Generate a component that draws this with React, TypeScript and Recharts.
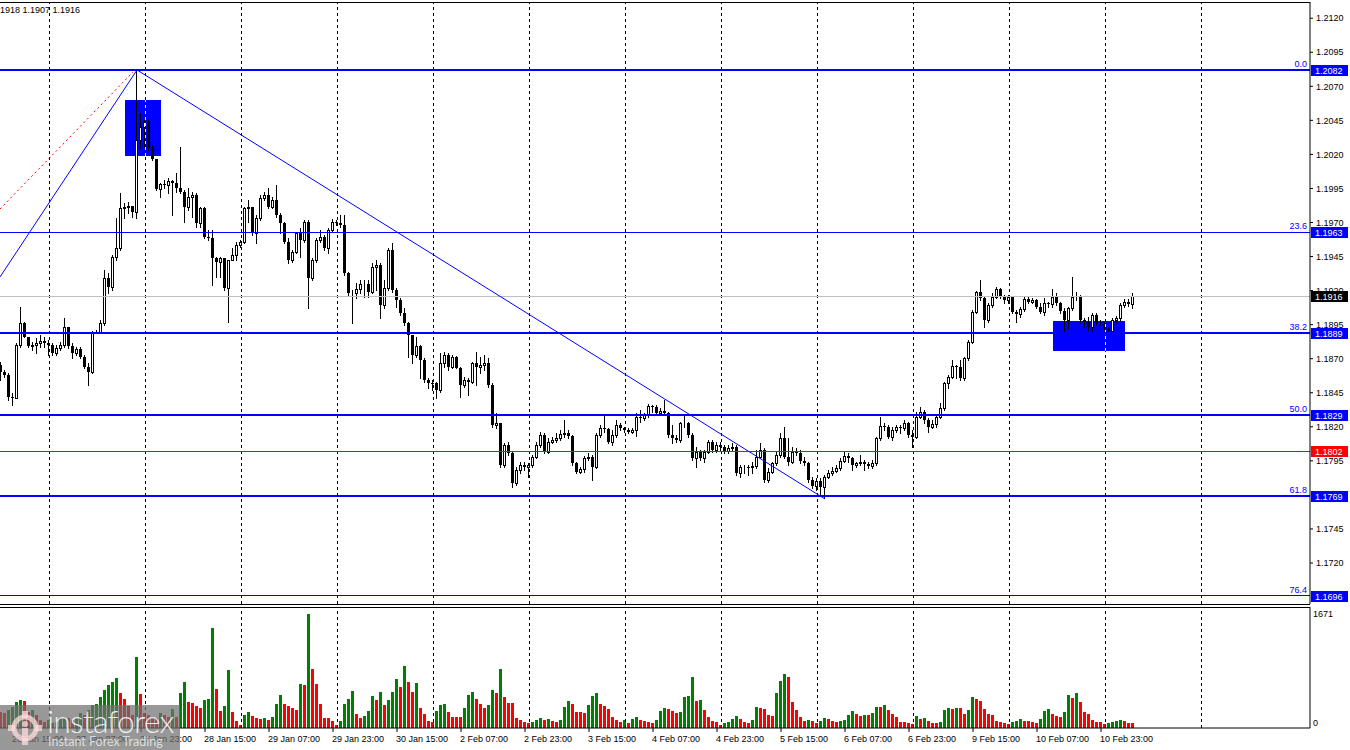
import React from "react";
import { Bar, ComposedChart, ReferenceArea, ReferenceLine, XAxis, YAxis } from "recharts";

const FONT = "'Liberation Sans', Arial, sans-serif";

// EURUSD H1, candle index 0 = 26 Jan 12:00
const firstOpen = 1.18654;

const closes = [
  1.18606, 1.18581, 1.18422, 1.1841, 1.18801, 1.1896, 1.18862, 1.18794, 1.18801, 1.18818,
  1.18833, 1.18813, 1.18801, 1.1874, 1.18777, 1.18801, 1.18936, 1.18794, 1.1874, 1.18769,
  1.18716, 1.18642, 1.18606, 1.18899, 1.18895, 1.1896, 1.19291, 1.19229, 1.1945, 1.19511,
  1.19805, 1.19817, 1.1982, 1.1978, 1.20306, 1.20404, 1.20441, 1.20245, 1.20164, 1.19944,
  1.19983, 1.19976, 1.20007, 1.19993, 1.19951, 1.19927, 1.19817, 1.1989, 1.19902, 1.19694,
  1.19805, 1.19597, 1.19584, 1.19437, 1.19413, 1.19437, 1.19217, 1.19425, 1.19462, 1.19535,
  1.1956, 1.19805, 1.19812, 1.19621, 1.19731, 1.19878, 1.19902, 1.19817, 1.19866, 1.19756,
  1.19694, 1.1956, 1.19425, 1.19486, 1.19621, 1.19572, 1.19707, 1.19291, 1.19425, 1.19572,
  1.19597, 1.19511, 1.19645, 1.19707, 1.19699, 1.19682, 1.19327, 1.1918, 1.19185, 1.1921,
  1.19249, 1.1925, 1.19193, 1.19376, 1.19388, 1.19095, 1.19217, 1.19499, 1.19205, 1.19132,
  1.19034, 1.1896, 1.18875, 1.18728, 1.18794, 1.18691, 1.18544, 1.18525, 1.1852, 1.18471,
  1.18667, 1.18728, 1.18642, 1.18715, 1.18634, 1.18507, 1.18544, 1.18532, 1.18666, 1.18642,
  1.18654, 1.18666, 1.18507, 1.18214, 1.18226, 1.1792, 1.18067, 1.18006, 1.17785, 1.17883,
  1.1792, 1.17903, 1.1792, 1.17981, 1.18067, 1.1814, 1.18018, 1.18091, 1.18104, 1.18116,
  1.18147, 1.18157, 1.18133, 1.17932, 1.17871, 1.17888, 1.17969, 1.17981, 1.17908, 1.1814,
  1.18189, 1.18182, 1.18091, 1.1814, 1.18214, 1.18189, 1.18177, 1.18165, 1.18177, 1.18275,
  1.18263, 1.18287, 1.18353, 1.18348, 1.18304, 1.18316, 1.18299, 1.1814, 1.18116, 1.18104,
  1.18226, 1.18231, 1.1814, 1.17969, 1.18018, 1.17969, 1.18018, 1.18091, 1.1803, 1.18067,
  1.18055, 1.18025, 1.18042, 1.18055, 1.17859, 1.17903, 1.17908, 1.17903, 1.17913, 1.17981,
  1.1803, 1.1781, 1.17871, 1.17932, 1.17993, 1.18116, 1.17981, 1.17944, 1.18018, 1.18011,
  1.17952, 1.17937, 1.1781, 1.17766, 1.17805, 1.17756, 1.17834, 1.17859, 1.17878, 1.17896,
  1.17952, 1.17986, 1.17969, 1.1792, 1.17932, 1.17944, 1.17927, 1.17913, 1.17932, 1.18116,
  1.18206, 1.18201, 1.18128, 1.18177, 1.18197, 1.18189, 1.18226, 1.1814, 1.18128, 1.18275,
  1.18312, 1.1825, 1.18201, 1.18221, 1.18275, 1.18336, 1.1852, 1.18569, 1.18647, 1.18637,
  1.18556, 1.18703, 1.18825, 1.19046, 1.19193, 1.19144, 1.18985, 1.19095, 1.19156, 1.1921,
  1.19156, 1.19131, 1.19151, 1.19046, 1.19029, 1.19063, 1.19136, 1.19119, 1.19131, 1.19082,
  1.19046, 1.19107, 1.191, 1.19156, 1.19107, 1.19053, 1.18985, 1.1907, 1.19151, 1.19156,
  1.18985, 1.18972, 1.18936, 1.19021, 1.1896, 1.18965, 1.18923, 1.18906, 1.18985, 1.18997,
  1.19095, 1.19119, 1.19102, 1.1916,
];

const highs = [
  1.18679, 1.18618, 1.18593, 1.18446, 1.18813, 1.19083, 1.18973, 1.18862, 1.18826, 1.1885,
  1.18875, 1.18862, 1.18838, 1.18813, 1.18801, 1.18826, 1.18997, 1.18936, 1.18813, 1.18789,
  1.18789, 1.18728, 1.18667, 1.18906, 1.18911, 1.18985, 1.19352, 1.19327, 1.19462, 1.19731,
  1.19915, 1.19841, 1.19854, 1.19817, 1.2082, 1.20502, 1.20453, 1.20453, 1.20269, 1.20164,
  1.19993, 1.20012, 1.20025, 1.20012, 1.20061, 1.20257, 1.19939, 1.19951, 1.19927, 1.19915,
  1.19817, 1.19817, 1.19645, 1.19645, 1.1945, 1.1945, 1.19425, 1.19425, 1.19511, 1.1956,
  1.19572, 1.19817, 1.19866, 1.19817, 1.19756, 1.19902, 1.19927, 1.19951, 1.1989, 1.19976,
  1.19768, 1.19707, 1.19584, 1.19499, 1.19633, 1.19658, 1.19719, 1.19719, 1.19437, 1.19584,
  1.19645, 1.19609, 1.19658, 1.19724, 1.19719, 1.19756, 1.19756, 1.1934, 1.19205, 1.19254,
  1.19278, 1.19278, 1.19278, 1.19401, 1.19425, 1.19401, 1.19278, 1.19511, 1.19548, 1.19217,
  1.19144, 1.1907, 1.18973, 1.18875, 1.18862, 1.18801, 1.18704, 1.18556, 1.18544, 1.18532,
  1.1874, 1.18752, 1.1874, 1.18727, 1.1872, 1.18642, 1.18568, 1.18556, 1.18679, 1.18752,
  1.18715, 1.18727, 1.18703, 1.18519, 1.18299, 1.18226, 1.18079, 1.18091, 1.18018, 1.17908,
  1.17944, 1.17944, 1.17932, 1.17993, 1.18091, 1.18165, 1.18152, 1.18116, 1.18128, 1.18152,
  1.18177, 1.1825, 1.18177, 1.1814, 1.17944, 1.17908, 1.17986, 1.18006, 1.17993, 1.18152,
  1.18214, 1.1828, 1.18189, 1.18177, 1.1825, 1.18226, 1.18201, 1.18189, 1.18189, 1.18299,
  1.18324, 1.18299, 1.18368, 1.1836, 1.1836, 1.18336, 1.18397, 1.18311, 1.18214, 1.1814,
  1.18238, 1.18287, 1.18238, 1.18152, 1.18055, 1.1803, 1.1803, 1.18104, 1.18104, 1.18091,
  1.18091, 1.18067, 1.18067, 1.18079, 1.18067, 1.1792, 1.1792, 1.1792, 1.17944, 1.1803,
  1.18079, 1.18042, 1.17896, 1.17944, 1.18018, 1.18152, 1.18201, 1.18116, 1.18055, 1.18042,
  1.1803, 1.17981, 1.17944, 1.17834, 1.17822, 1.17822, 1.17847, 1.17883, 1.17908, 1.1792,
  1.17969, 1.18018, 1.18006, 1.17981, 1.17944, 1.17993, 1.17957, 1.17944, 1.17957, 1.18128,
  1.1827, 1.18226, 1.18214, 1.18201, 1.18214, 1.18214, 1.1825, 1.18238, 1.18177, 1.18312,
  1.18348, 1.18324, 1.18263, 1.1825, 1.18287, 1.18373, 1.18532, 1.18581, 1.18691, 1.18654,
  1.18691, 1.18715, 1.18838, 1.19058, 1.192, 1.19278, 1.19156, 1.19107, 1.1918, 1.19229,
  1.19217, 1.19168, 1.19168, 1.19156, 1.19058, 1.19082, 1.19151, 1.19156, 1.19144, 1.19136,
  1.19107, 1.19144, 1.19119, 1.1921, 1.1918, 1.19119, 1.1907, 1.19082, 1.19298, 1.19193,
  1.19168, 1.18997, 1.19009, 1.19034, 1.19034, 1.18985, 1.18972, 1.18936, 1.18997, 1.19014,
  1.19112, 1.19136, 1.19136, 1.1918,
];

const lows = [
  1.18544, 1.18569, 1.18398, 1.18361, 1.1841, 1.18789, 1.18862, 1.18789, 1.18765, 1.1874,
  1.18789, 1.18789, 1.18728, 1.18728, 1.18728, 1.18765, 1.18789, 1.18777, 1.18704, 1.18728,
  1.18704, 1.1863, 1.18508, 1.18593, 1.18887, 1.18887, 1.18948, 1.1918, 1.19205, 1.19425,
  1.19499, 1.19731, 1.19768, 1.19743, 1.19731, 1.20245, 1.20257, 1.20233, 1.20159, 1.19939,
  1.19885, 1.19951, 1.19915, 1.19756, 1.19927, 1.19915, 1.19707, 1.19792, 1.19743, 1.1967,
  1.1967, 1.19584, 1.19572, 1.19242, 1.19303, 1.19303, 1.19205, 1.18973, 1.19425, 1.19425,
  1.19523, 1.19548, 1.19707, 1.19609, 1.19548, 1.19719, 1.19866, 1.19805, 1.19805, 1.19743,
  1.19621, 1.19548, 1.19401, 1.19413, 1.19474, 1.1945, 1.1956, 1.1907, 1.19278, 1.19413,
  1.1956, 1.19499, 1.19474, 1.19633, 1.19682, 1.1967, 1.19315, 1.19168, 1.1896, 1.19144,
  1.1918, 1.19156, 1.19156, 1.1918, 1.19205, 1.18997, 1.1907, 1.19205, 1.19193, 1.19083,
  1.19021, 1.18948, 1.18716, 1.18667, 1.18716, 1.18556, 1.18532, 1.18483, 1.18471, 1.1841,
  1.18459, 1.18642, 1.18618, 1.1863, 1.1863, 1.18422, 1.18495, 1.18434, 1.18519, 1.18507,
  1.18593, 1.18617, 1.18495, 1.18201, 1.18189, 1.17908, 1.17903, 1.17993, 1.17761, 1.17773,
  1.17859, 1.17883, 1.17834, 1.17908, 1.17969, 1.18055, 1.18006, 1.18006, 1.18079, 1.18091,
  1.18104, 1.18128, 1.18116, 1.1792, 1.17859, 1.17859, 1.17871, 1.17957, 1.1781, 1.17896,
  1.18128, 1.18165, 1.18079, 1.18067, 1.18128, 1.18177, 1.18165, 1.18152, 1.18152, 1.18133,
  1.18238, 1.1825, 1.18275, 1.18311, 1.18287, 1.18299, 1.18287, 1.18128, 1.18079, 1.18091,
  1.18091, 1.18201, 1.18128, 1.17957, 1.17908, 1.17957, 1.17944, 1.18006, 1.18018, 1.18018,
  1.1803, 1.18011, 1.18011, 1.1803, 1.17847, 1.17834, 1.17859, 1.17847, 1.17859, 1.17896,
  1.17969, 1.17798, 1.17798, 1.17859, 1.1792, 1.17981, 1.17969, 1.1792, 1.17932, 1.17993,
  1.17932, 1.1792, 1.17798, 1.17749, 1.17736, 1.177, 1.17675, 1.17822, 1.17847, 1.17871,
  1.17883, 1.17944, 1.17944, 1.17883, 1.17908, 1.1792, 1.17883, 1.17896, 1.17896, 1.1792,
  1.18104, 1.18177, 1.18116, 1.18104, 1.18165, 1.18153, 1.18177, 1.18128, 1.18055, 1.18116,
  1.18263, 1.18226, 1.18165, 1.18189, 1.18201, 1.18263, 1.18324, 1.18483, 1.18556, 1.18556,
  1.18544, 1.18544, 1.18691, 1.18813, 1.19034, 1.19131, 1.18936, 1.18972, 1.19082, 1.19144,
  1.19144, 1.19107, 1.19107, 1.19034, 1.18972, 1.19009, 1.19053, 1.19107, 1.19107, 1.1907,
  1.19034, 1.19021, 1.19082, 1.19082, 1.19095, 1.19038, 1.18899, 1.18923, 1.19058, 1.19131,
  1.18972, 1.18936, 1.18911, 1.18899, 1.18948, 1.18948, 1.18911, 1.18887, 1.18899, 1.18972,
  1.18985, 1.19082, 1.19087, 1.1907,
];

const volumes = [
  240, 215, 264, 303, 386, 410, 396, 240, 264, 190,
  117, 93, 117, 68, 93, 142, 166, 142, 117, 166,
  215, 190, 264, 337, 352, 450, 557, 630, 679, 728,
  518, 425, 323, 190, 1046, 498, 215, 190, 166, 142,
  215, 190, 166, 279, 166, 518, 679, 386, 362, 323,
  298, 410, 425, 1471, 572, 254, 323, 850, 239, 108,
  44, 190, 230, 176, 151, 137, 151, 117, 166, 352,
  484, 352, 323, 298, 269, 645, 630, 1671, 870, 645,
  352, 151, 142, 108, 44, 103, 352, 425, 547, 205,
  151, 176, 249, 469, 410, 523, 332, 410, 523, 718,
  606, 909, 674, 533, 655, 298, 205, 108, 93, 254,
  337, 347, 235, 166, 166, 161, 298, 484, 533, 425,
  352, 298, 337, 557, 513, 865, 454, 367, 362, 151,
  117, 88, 73, 88, 117, 142, 117, 125, 98, 88,
  117, 308, 396, 352, 235, 230, 220, 337, 464, 513,
  352, 323, 279, 161, 117, 88, 117, 73, 132, 161,
  117, 103, 88, 80, 117, 249, 293, 279, 249, 220,
  235, 454, 469, 748, 396, 410, 264, 161, 103, 88,
  44, 73, 88, 132, 176, 132, 88, 80, 117, 308,
  300, 279, 191, 176, 513, 689, 792, 748, 381, 264,
  161, 103, 117, 103, 73, 103, 147, 132, 103, 88,
  103, 117, 191, 249, 205, 176, 191, 185, 220, 308,
  303, 337, 264, 205, 156, 88, 85, 68, 59, 176,
  132, 147, 103, 73, 70, 88, 264, 293, 279, 293,
  290, 205, 264, 454, 425, 396, 279, 205, 191, 103,
  88, 73, 59, 88, 103, 132, 103, 100, 88, 73,
  132, 249, 279, 205, 176, 161, 235, 484, 440, 513,
  386, 235, 205, 117, 88, 85, 59, 73, 88, 103,
  117, 103, 73, 70,
];

// day separators (00:00 of each trading day) and time labels, as candle indices
const daySeparators = [12, 36, 60, 84, 108, 132, 156, 180, 204, 228, 252, 276, 300];
const timeLabelIdx = [3, 19, 35, 51, 67, 83, 99, 115, 131, 147, 163, 179, 195, 211, 227, 243, 259, 275];
const timeLabels = [
  "26 Jan 15:00", "27 Jan 07:00", "27 Jan 23:00", "28 Jan 15:00", "29 Jan 07:00", "29 Jan 23:00",
  "30 Jan 15:00", "2 Feb 07:00", "2 Feb 23:00", "3 Feb 15:00", "4 Feb 07:00", "4 Feb 23:00",
  "5 Feb 15:00", "6 Feb 07:00", "6 Feb 23:00", "9 Feb 15:00", "10 Feb 07:00", "10 Feb 23:00",
];

const priceTicks = [
  1.212, 1.2095, 1.207, 1.2045, 1.202, 1.1995, 1.197, 1.1945, 1.192, 1.1895,
  1.187, 1.1845, 1.182, 1.1795, 1.1745, 1.172,
];

const fibNames = ["0.0", "23.6", "38.2", "50.0", "61.8", "76.4"];
const fibPrices = [1.2082, 1.1963, 1.1889, 1.1829, 1.1769, 1.1696];
const fibWidths = [2, 1, 2, 2, 2, 1];

const lastPrice = 1.1916;
const redLevel = 1.1802;

const volumeTicks = [0, 1671];

const X_MIN = -0.25;
const X_MAX = 327.25;
const P_MIN = 1.16899;
const P_MAX = 1.21319;
const V_MAX = 1774;

const candles = closes.map((c, i) => {
  const o = i === 0 ? firstOpen : closes[i - 1];
  const h = Math.max(highs[i], o, c);
  const l = Math.min(lows[i], o, c);
  return {
    i,
    open: o,
    close: c,
    high: h,
    low: l,
    range: [l, h],
    vol: volumes[i],
    volUp: i > 0 && volumes[i] > volumes[i - 1],
  };
});

function Candle(props: any) {
  const { x, y, width, height, payload } = props;
  if (x == null || !payload) return null;
  const { open, close, high, low } = payload;
  const span = high - low;
  const py = (v: number) => (span > 0 ? y + ((high - v) / span) * height : y);
  const cx = Math.round(x + width / 2 - 0.5);
  const top = Math.round(py(Math.max(open, close)));
  const bot = Math.round(py(Math.min(open, close)));
  const up = close >= open;
  return (
    <g shapeRendering="crispEdges">
      <line x1={cx + 0.5} x2={cx + 0.5} y1={Math.round(y)} y2={Math.round(y + height) + 1} stroke="#000" />
      {up ? (
        <rect x={cx - 0.5} y={top + 0.5} width={2} height={Math.max(bot - top, 0)} fill="#fff" stroke="#000" />
      ) : (
        <rect x={cx - 1} y={top} width={3} height={Math.max(bot - top, 1)} fill="#000" />
      )}
    </g>
  );
}

function VolumeBar(props: any) {
  const { x, y, width, height, payload } = props;
  if (x == null || !payload || !(height > 0)) return null;
  const cx = Math.round(x + width / 2 - 0.5);
  const top = Math.round(y);
  return (
    <rect
      x={cx - 1}
      y={top}
      width={3}
      height={Math.round(y + height) - top}
      fill={payload.volUp ? "#008000" : "#ff0000"}
      shapeRendering="crispEdges"
    />
  );
}

function PriceTag({ viewBox, text, bg, fib }: any) {
  if (!viewBox) return null;
  const y = Math.round(viewBox.y);
  const right = viewBox.x + viewBox.width;
  return (
    <g>
      {fib ? (
        <text x={right - 3} y={y - 3} textAnchor="end" fontSize={9} fontFamily={FONT} fill="#0000ff">
          {fib}
        </text>
      ) : null}
      <rect x={right + 1} y={y - 5} width={37} height={11} fill={bg} />
      <text x={right + 5} y={y + 4} fontSize={9} fontFamily={FONT} fill="#fff">
        {text}
      </text>
    </g>
  );
}

function TimeTick(props: any) {
  const { x, y, payload } = props;
  const k = timeLabelIdx.indexOf(payload.value);
  return (
    <text x={x - 1} y={y + 10} fontSize={9} fontFamily={FONT} fill="#000" textAnchor="start">
      {timeLabels[k]}
    </text>
  );
}

function VolumeTick(props: any) {
  const { x, y, payload } = props;
  return (
    <text x={x} y={payload.value === 0 ? y - 5 : y} dy="0.355em" fontSize={9} fontFamily={FONT} fill="#000">
      {payload.value}
    </text>
  );
}

function Logo() {
  return (
    <svg width={40} height={38} viewBox="0 0 40 38">
      <g fill="rgba(255,220,220,0.75)">
        <circle cx={20} cy={19} r={11} fill="none" stroke="rgba(255,220,220,0.75)" strokeWidth={5} />
        <rect x={17} y={2} width={6} height={7} />
        <rect x={17} y={29} width={6} height={7} />
        <rect x={3} y={16} width={7} height={6} />
        <rect x={30} y={16} width={7} height={6} />
        <circle cx={20} cy={15} r={3} />
        <rect x={17} y={19} width={6} height={9} />
      </g>
    </svg>
  );
}

export default function App() {
  return (
    <div style={{ position: "absolute", left: 0, top: 0, width: 1350, height: 750, background: "#fff", overflow: "hidden" }}>
      <div style={{ position: "absolute", left: 0, top: 0 }}>
        <ComposedChart width={1350} height={606} data={candles} margin={{ top: 2, right: 0, bottom: 2, left: 0 }}>
          <XAxis dataKey="i" type="number" domain={[X_MIN, X_MAX]} allowDataOverflow hide />
          <YAxis
            orientation="right"
            width={40}
            domain={[P_MIN, P_MAX]}
            allowDataOverflow
            ticks={priceTicks}
            interval={0}
            tickFormatter={(v: number) => v.toFixed(4)}
            tick={{ fontSize: 9, fill: "#000", fontFamily: FONT }}
            tickSize={3}
            tickMargin={3}
            tickLine={{ stroke: "#000" }}
            axisLine={{ stroke: "#000" }}
          />
          <ReferenceArea x1={31} x2={40} y1={1.20189} y2={1.206} fill="#0000ff" fillOpacity={1} stroke="none" ifOverflow="hidden" />
          <ReferenceArea x1={263} x2={281} y1={1.18757} y2={1.18977} fill="#0000ff" fillOpacity={1} stroke="none" ifOverflow="hidden" />
          {daySeparators.map((s) => (
            <ReferenceLine key={`d${s}`} x={s} stroke="#000" strokeDasharray="3 3" shapeRendering="crispEdges" ifOverflow="hidden" />
          ))}
          <ReferenceLine segment={[{ x: 36, y: 1.20189 }, { x: 36, y: 1.206 }]} stroke="#ffff00" strokeDasharray="3 3" shapeRendering="crispEdges" />
          <ReferenceLine segment={[{ x: 276, y: 1.18757 }, { x: 276, y: 1.18977 }]} stroke="#ffff00" strokeDasharray="3 3" shapeRendering="crispEdges" />
          <ReferenceLine y={P_MAX} stroke="#000" shapeRendering="crispEdges" />
          <ReferenceLine y={P_MIN} stroke="#000" shapeRendering="crispEdges" />
          <ReferenceLine y={lastPrice} stroke="#c0c0c0" shapeRendering="crispEdges" />
          <ReferenceLine y={redLevel} stroke="#ff0000" shapeRendering="crispEdges" />
          {fibPrices.map((p, k) => (
            <ReferenceLine key={`f${k}`} y={p} stroke="#0000ff" strokeWidth={fibWidths[k]} shapeRendering="crispEdges" />
          ))}
          <ReferenceLine segment={[{ x: -0.25, y: 1.193 }, { x: 34, y: 1.2082 }]} stroke="#0000ff" ifOverflow="hidden" />
          <ReferenceLine segment={[{ x: -0.25, y: 1.19799 }, { x: 33, y: 1.20805 }]} stroke="#ff0000" strokeDasharray="2 3" ifOverflow="hidden" />
          <ReferenceLine segment={[{ x: 34, y: 1.2082 }, { x: 206, y: 1.1767 }]} stroke="#0000ff" ifOverflow="hidden" />
          <Bar dataKey="range" barSize={3} shape={<Candle />} isAnimationActive={false} />
          <ReferenceLine y={lastPrice} stroke="none" label={(p: any) => <PriceTag viewBox={p.viewBox} text="1.1916" bg="#000" />} />
          <ReferenceLine y={redLevel} stroke="none" label={(p: any) => <PriceTag viewBox={p.viewBox} text="1.1802" bg="#ff0000" />} />
          {fibPrices.map((p, k) => (
            <ReferenceLine
              key={`t${k}`}
              y={p}
              stroke="none"
              label={(lp: any) => <PriceTag viewBox={lp.viewBox} text={p.toFixed(4)} bg="#0000ff" fib={fibNames[k]} />}
            />
          ))}
        </ComposedChart>
      </div>
      <div style={{ position: "absolute", left: 0, top: 606 }}>
        <ComposedChart width={1350} height={143} data={candles} margin={{ top: 1, right: 0, bottom: 2, left: 0 }}>
          <XAxis
            dataKey="i"
            type="number"
            domain={[X_MIN, X_MAX]}
            allowDataOverflow
            ticks={timeLabelIdx}
            interval={0}
            height={19}
            tick={<TimeTick />}
            tickSize={4}
            tickMargin={0}
            tickLine={{ stroke: "#000" }}
            axisLine={{ stroke: "#000" }}
          />
          <YAxis
            orientation="right"
            width={40}
            domain={[0, V_MAX]}
            allowDataOverflow
            ticks={volumeTicks}
            interval={0}
            tick={<VolumeTick />}
            tickSize={0}
            tickMargin={3}
            tickLine={false}
            axisLine={{ stroke: "#000" }}
          />
          {daySeparators.map((s) => (
            <ReferenceLine key={`v${s}`} x={s} stroke="#000" strokeDasharray="3 3" shapeRendering="crispEdges" ifOverflow="hidden" />
          ))}
          <ReferenceLine y={V_MAX} stroke="#000" shapeRendering="crispEdges" />
          <Bar dataKey="vol" barSize={3} shape={<VolumeBar />} isAnimationActive={false} />
        </ComposedChart>
      </div>
      <div style={{ position: "absolute", left: 0, top: 6, fontFamily: FONT, fontSize: 9, lineHeight: "9px", color: "#000", whiteSpace: "nowrap" }}>
        1918 1.1907 1.1916
      </div>
      <div
        style={{
          position: "absolute",
          left: 0,
          top: 705,
          width: 180,
          height: 45,
          background: "rgba(112,112,112,0.72)",
          fontFamily: "Lato, 'Open Sans', sans-serif",
          color: "rgba(255,255,255,0.85)",
        }}
      >
        <div style={{ position: "absolute", left: 5, top: 4 }}>
          <Logo />
        </div>
        <div style={{ position: "absolute", left: 47, top: -1, fontSize: 32, fontWeight: 300, letterSpacing: -0.8, lineHeight: "34px" }}>
          instaforex
        </div>
        <div style={{ position: "absolute", left: 48, top: 30, fontSize: 12.5, lineHeight: "14px", color: "rgba(235,235,235,0.85)" }}>
          Instant Forex Trading
        </div>
      </div>
    </div>
  );
}
